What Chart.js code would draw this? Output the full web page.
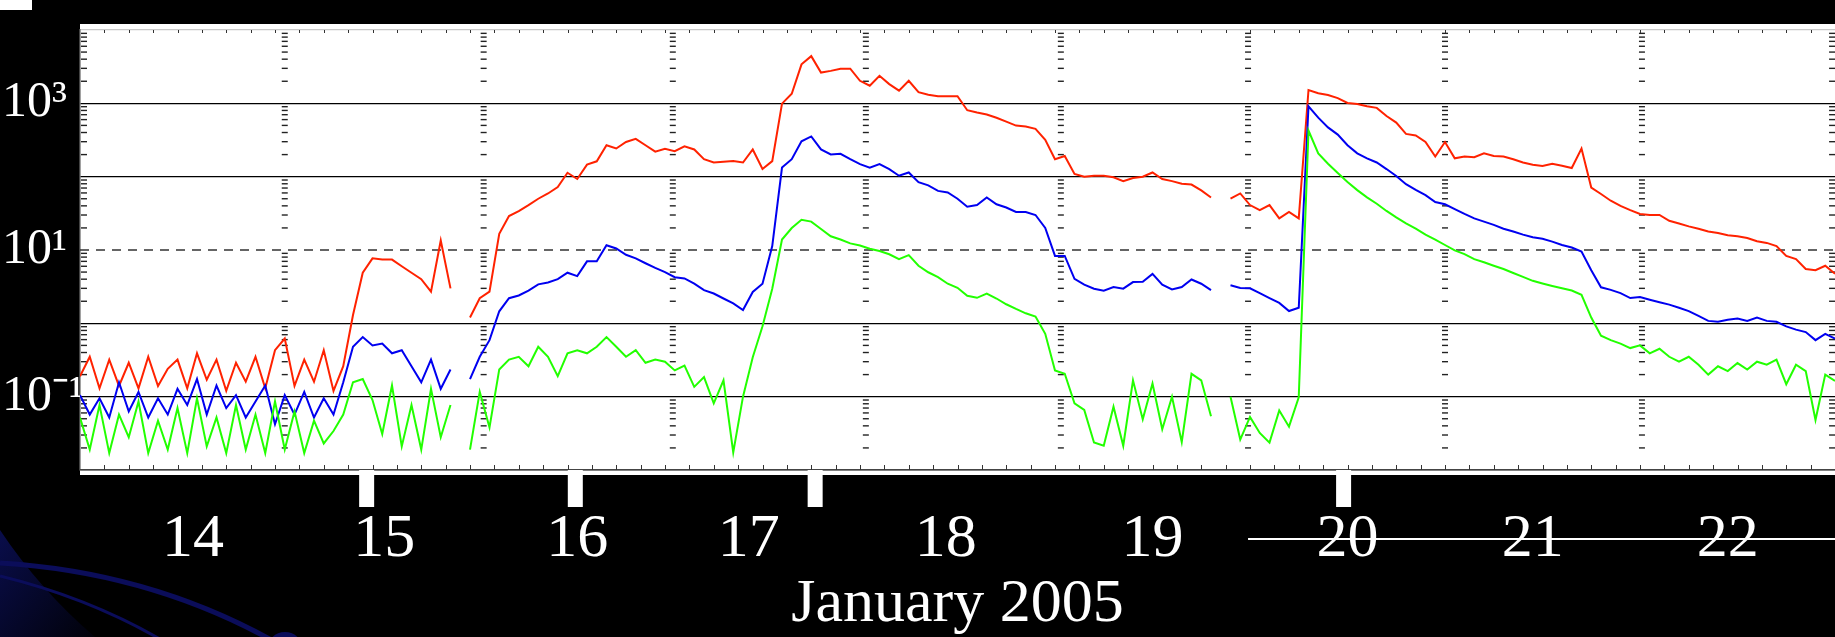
<!DOCTYPE html>
<html>
<head>
<meta charset="utf-8">
<title>Proton flux, January 2005</title>
<script src="https://cdn.jsdelivr.net/npm/chart.js@4/dist/chart.umd.min.js"></script>
<style>
  html, body { margin: 0; padding: 0; background: #000; }
  canvas { display: block; }
</style>
</head>
<body>
<canvas id="chart" width="1835" height="637"></canvas>
<script>
// Time grid in days of January 2005, one sample every 0.05 day
const stepDays = 0.05
const days = Array.from({ length: 181 }, (_, i) => +(14 + i * stepDays).toFixed(2))

// Flux, one row per 1.5 days (null = data gap)
const redFlux = [
    0.19, 0.35, 0.13, 0.32, 0.14, 0.29, 0.13, 0.35, 0.14, 0.24, 0.32, 0.13, 0.39, 0.17, 0.32, 0.12, 0.29, 0.16, 0.35, 0.13, 0.43, 0.62, 0.14, 0.32, 0.16, 0.43, 0.12, 0.26, 1.3, 4.9, 7.7,
    7.4, 7.4, 6.0, 4.9, 4.0, 2.7, 13.5, 3.0, null, 1.2, 2.2, 2.7, 16.6, 29, 34, 41, 50, 59, 72, 113, 93, 146, 162, 268, 242, 297, 328, 268, 219, 240,
    223, 260, 235, 173, 156, 160, 163, 156, 235, 127, 163, 990, 1350, 3400, 4400, 2630, 2770, 2970, 2970, 2030, 1740, 2370, 1830, 1490, 2030, 1420, 1310, 1250, 1250, 1250,
    806, 750, 705, 636, 563, 497, 482, 449, 319, 173, 191, 109, 100, 103, 103, 98, 87, 96, 100, 114, 93, 87, 80, 78, 65, 52, null, 50, 59, 41,
    35, 41, 27, 33, 27, 1520, 1370, 1300, 1180, 1010, 980, 912, 867, 671, 547, 383, 364, 297, 188, 297, 178, 188, 184, 208, 192, 188, 173, 156, 145, 140,
    150, 141, 131, 242, 71, 58, 47, 40, 35, 31, 30, 30, 25, 23, 21, 19.5, 17.9, 17, 15.9, 15.4, 14.6, 13.2, 12.5, 11.3, 8.3, 7.5, 5.5, 5.3, 6.1, 4.75
]
const blueFlux = [
    0.105, 0.057, 0.095, 0.052, 0.157, 0.063, 0.116, 0.052, 0.095, 0.057, 0.128, 0.077, 0.174, 0.057, 0.142, 0.070, 0.105, 0.052, 0.086, 0.142, 0.042, 0.105, 0.057, 0.116, 0.052, 0.095, 0.057, 0.157, 0.48, 0.65, 0.5,
    0.53, 0.39, 0.43, 0.26, 0.157, 0.32, 0.128, 0.235, null, 0.174, 0.35, 0.59, 1.46, 2.2, 2.4, 2.8, 3.4, 3.6, 4.0, 4.9, 4.4, 7.0, 7.0, 11.6, 10.5, 8.6, 7.7, 6.6, 5.7, 5.0,
    4.26, 4.1, 3.47, 2.83, 2.55, 2.18, 1.87, 1.52, 2.68, 3.47, 11.3, 133, 173, 303, 354, 235, 201, 205, 173, 148, 133, 148, 127, 103, 114, 84, 76, 64, 61, 50,
    39, 41, 52, 42, 38, 33, 33, 30, 20, 8.3, 8.3, 4.05, 3.37, 2.97, 2.79, 3.13, 2.97, 3.65, 3.7, 4.72, 3.37, 2.9, 3.13, 3.96, 3.47, 2.83, null, 3.3, 3.03, 3.0,
    2.58, 2.21, 1.9, 1.47, 1.63, 912, 638, 470, 375, 268, 208, 178, 156, 127, 102, 79, 66, 56, 45, 42, 36, 31, 27, 24.4, 22, 19.5, 17.9, 16.2, 14.9, 14.2,
    13, 11.7, 10.8, 9.5, 5.3, 3.1, 2.86, 2.58, 2.21, 2.28, 2.1, 1.94, 1.8, 1.63, 1.47, 1.26, 1.08, 1.05, 1.12, 1.16, 1.08, 1.2, 1.08, 1.05, 0.91, 0.82, 0.76, 0.59, 0.72, 0.62
]
const greenFlux = [
    0.052, 0.019, 0.077, 0.017, 0.057, 0.028, 0.086, 0.017, 0.047, 0.019, 0.070, 0.017, 0.095, 0.021, 0.052, 0.017, 0.077, 0.019, 0.057, 0.017, 0.086, 0.019, 0.063, 0.017, 0.047, 0.023, 0.034, 0.057, 0.157, 0.174, 0.09,
    0.031, 0.142, 0.021, 0.077, 0.019, 0.128, 0.028, 0.077, null, 0.019, 0.116, 0.038, 0.235, 0.32, 0.35, 0.26, 0.48, 0.35, 0.19, 0.39, 0.43, 0.39, 0.48, 0.65, 0.48, 0.35, 0.43, 0.29, 0.32, 0.3,
    0.228, 0.266, 0.136, 0.185, 0.081, 0.167, 0.0174, 0.1, 0.344, 0.91, 2.97, 13.9, 19.9, 25.8, 24.4, 19.3, 15.4, 13.9, 12.3, 11.5, 10.4, 9.7, 8.75, 7.5, 8.5, 6.1, 4.97, 4.26, 3.47, 3.05,
    2.37, 2.23, 2.55, 2.18, 1.82, 1.57, 1.37, 1.24, 0.72, 0.228, 0.205, 0.081, 0.066, 0.0237, 0.0214, 0.073, 0.0214, 0.167, 0.049, 0.151, 0.036, 0.1, 0.024, 0.205, 0.167, 0.054, null, 0.1, 0.026, 0.053,
    0.032, 0.0236, 0.065, 0.039, 0.098, 425, 208, 150, 112, 84.5, 65.5, 52.3, 42.7, 34.1, 27.8, 23.1, 19.5, 16.2, 13.9, 11.7, 9.9, 8.8, 7.5, 6.8, 6.1, 5.5, 4.85, 4.3, 3.8, 3.5,
    3.23, 3.0, 2.8, 2.45, 1.2, 0.68, 0.59, 0.53, 0.46, 0.5, 0.39, 0.45, 0.35, 0.30, 0.35, 0.273, 0.2, 0.26, 0.223, 0.287, 0.234, 0.30, 0.273, 0.32, 0.148, 0.273, 0.223, 0.048, 0.2, 0.164
]

// Axis labels
const dayLabels = ['14', '15', '16', '17', '18', '19', '20', '21', '22']
const dayLabelPos = [14.58, 15.56, 16.55, 17.43, 18.44, 19.50, 20.50, 21.45, 22.45]
const decades = [0.01, 0.1, 1, 10, 100, 1000, 10000]
const decadeLabels = ['', '10⁻¹', '', '10¹', '', '10³', '']

// Day boundaries of the pasted panels (where the minor log ticks sit)
const dayEdges = [14.0, 15.05, 16.07, 17.04, 18.03, 19.03, 19.99, 21.0, 22.01, 22.985]
// White event markers under the time axis
const eventDays = [15.47, 16.54, 17.77, 20.48]

const serif = "'Liberation Serif', 'Times New Roman', serif"

/**
 * Build one flux dataset
 * @param {string} label
 * @param {(number|null)[]} values
 * @param {string} color
 * @param {number} order
 */
function series(label, values, color, order) {
    return {
        label,
        data: days.map((x, i) => ({ x, y: values[i] })),
        borderColor: color,
        borderWidth: 2,
        pointRadius: 0,
        tension: 0,
        order
    }
}

const panelDecor = {
    id: 'panelDecor',
    beforeDraw(chart) {
        const { ctx, chartArea: a } = chart
        ctx.save()
        ctx.fillStyle = '#000'
        ctx.fillRect(0, 0, chart.width, chart.height)

        // dark blue swoosh of the slide template, bottom left
        const g = ctx.createLinearGradient(0, 540, 120, 637)
        g.addColorStop(0, 'rgba(10,14,80,0.9)')
        g.addColorStop(1, 'rgba(10,14,80,0)')
        ctx.fillStyle = g
        ctx.beginPath()
        ctx.moveTo(0, 530)
        ctx.quadraticCurveTo(40, 590, 95, 637)
        ctx.lineTo(0, 637)
        ctx.fill()
        ctx.strokeStyle = '#0b0d5a'
        ctx.lineWidth = 5
        ctx.beginPath()
        ctx.moveTo(0, 563)
        ctx.quadraticCurveTo(150, 572, 275, 642)
        ctx.stroke()
        ctx.lineWidth = 3
        ctx.beginPath()
        ctx.moveTo(0, 576)
        ctx.quadraticCurveTo(90, 598, 165, 642)
        ctx.stroke()
        ctx.fillStyle = '#0b0d5a'
        ctx.beginPath()
        ctx.arc(285, 650, 18, 0, Math.PI * 2)
        ctx.fill()

        // white plot panel
        ctx.fillStyle = '#fff'
        ctx.fillRect(a.left, a.top - 6, a.right - a.left, a.bottom - a.top + 11)
        ctx.fillRect(0, 0, 32, 10)
        ctx.restore()
    },
    beforeDatasetsDraw(chart) {
        const { ctx, chartArea: a, scales: { x, y } } = chart
        ctx.save()

        // dashed line at 10 pfu
        const y10 = y.getPixelForValue(10)
        ctx.strokeStyle = '#333'
        ctx.lineWidth = 1.5
        ctx.setLineDash([9, 7])
        ctx.beginPath()
        ctx.moveTo(a.left, y10)
        ctx.lineTo(a.right, y10)
        ctx.stroke()
        ctx.setLineDash([])

        // minor log ticks along the day boundaries
        ctx.strokeStyle = '#222'
        ctx.lineWidth = 1.4
        dayEdges.forEach((d, k) => {
            const px = x.getPixelForValue(d)
            const x0 = k === 0 ? px + 1 : px - 3
            for (let e = -2; e < 4; e++) {
                for (let m = 2; m < 10; m++) {
                    const py = y.getPixelForValue(m * Math.pow(10, e))
                    ctx.beginPath()
                    ctx.moveTo(x0, py)
                    ctx.lineTo(x0 + 6, py)
                    ctx.stroke()
                }
            }
        })

        // 3-hour ticks along bottom and top
        ctx.strokeStyle = '#333'
        ctx.lineWidth = 1
        for (let k = 1; k < 72; k++) {
            const px = Math.round(x.getPixelForValue(14 + k / 8)) + 0.5
            ctx.beginPath()
            ctx.moveTo(px, a.bottom)
            ctx.lineTo(px, a.bottom - 5)
            ctx.moveTo(px, a.top)
            ctx.lineTo(px, a.top + 3)
            ctx.stroke()
        }
        ctx.restore()
    },
    afterDraw(chart) {
        const { ctx, chartArea: a, scales: { x } } = chart
        ctx.save()
        ctx.fillStyle = '#fff'
        eventDays.forEach(d => {
            const px = x.getPixelForValue(d)
            ctx.fillRect(px - 7.5, a.bottom, 15, 507 - a.bottom)
        })
        ctx.strokeStyle = '#fff'
        ctx.lineWidth = 2
        ctx.beginPath()
        ctx.moveTo(x.getPixelForValue(dayEdges[6]), 539)
        ctx.lineTo(chart.width, 539)
        ctx.stroke()
        ctx.restore()
    }
}

function main() {
    new Chart(document.getElementById('chart'), {
        type: 'line',
        data: {
            datasets: [
                series('>10 MeV', redFlux, '#ff2200', 3),
                series('>50 MeV', blueFlux, '#0000f0', 2),
                series('>100 MeV', greenFlux, '#22ff00', 1)
            ]
        },
        options: {
            responsive: false,
            animation: false,
            layout: { padding: { left: 2, top: 17, right: 0, bottom: 0 } },
            plugins: {
                legend: { display: false },
                tooltip: { enabled: false }
            },
            scales: {
                x: {
                    type: 'linear',
                    min: 14,
                    max: 23,
                    afterBuildTicks: s => { s.ticks = dayLabelPos.map(value => ({ value })) },
                    afterFit: s => { s.height = 167 },
                    grid: { display: false, drawTicks: false },
                    border: { display: true, color: '#444', width: 1.5 },
                    ticks: {
                        color: '#fff',
                        autoSkip: false,
                        maxRotation: 0,
                        padding: 33,
                        font: { family: serif, size: 62 },
                        callback: (v, i) => dayLabels[i]
                    },
                    title: {
                        display: true,
                        text: 'January 2005',
                        color: '#fff',
                        font: { family: serif, size: 62, lineHeight: 1.0 },
                        padding: { top: 0, bottom: 1 }
                    }
                },
                y: {
                    type: 'logarithmic',
                    min: 0.01,
                    max: 10000,
                    afterBuildTicks: s => { s.ticks = decades.map(value => ({ value })) },
                    afterFit: s => { s.width = 78 },
                    grid: {
                        drawTicks: false,
                        lineWidth: 1.3,
                        color: c => {
                            const v = c.tick ? c.tick.value : 0
                            if (v === 10) return 'rgba(0,0,0,0)'
                            if (v === 10000) return '#c8c8c8'
                            return '#000'
                        }
                    },
                    border: { color: '#444', width: 1.5 },
                    ticks: {
                        color: '#fff',
                        crossAlign: 'far',
                        padding: 0,
                        font: { family: serif, size: 50 },
                        callback: (v, i) => decadeLabels[i]
                    }
                }
            }
        },
        plugins: [panelDecor]
    })
}

window.onload = main
</script>
</body>
</html>
